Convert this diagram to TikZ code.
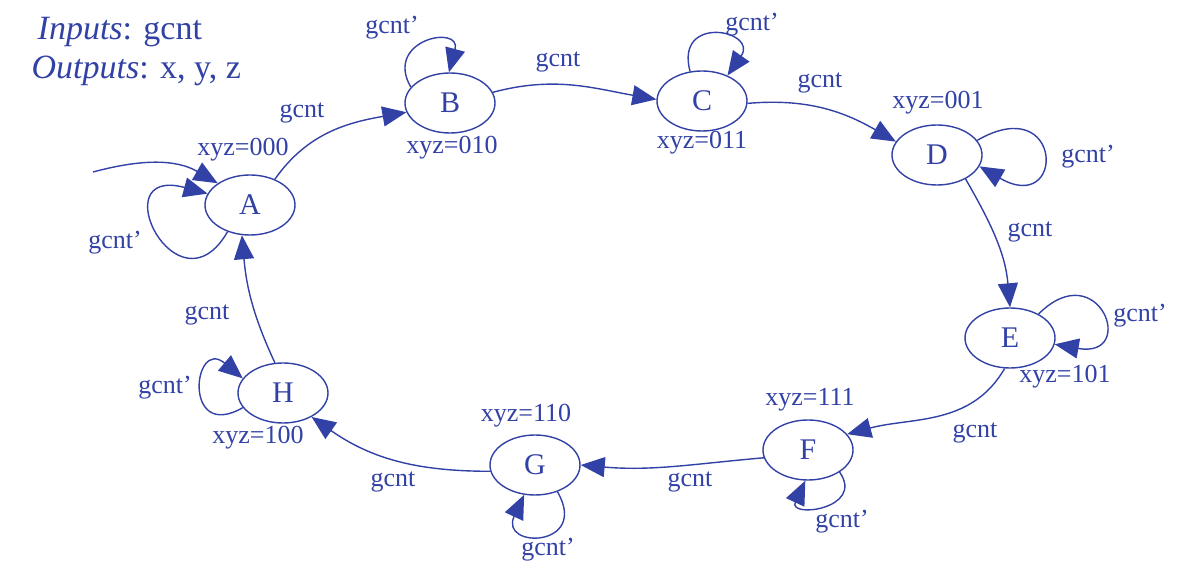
\documentclass[tikz,border=0pt]{standalone}
\usepackage{fontspec}
\setmainfont{Liberation Serif}
\usetikzlibrary{arrows.meta,shapes.geometric}
\definecolor{fsmblue}{RGB}{50,65,165}

\begin{document}
\begin{tikzpicture}[x=1pt, y=1pt, line width=1.4pt,
        state/.style={draw=fsmblue, ellipse, minimum width=90pt, minimum height=60pt, inner sep=0pt, text=fsmblue, font=\fontsize{30}{30}\selectfont},
        lbl/.style={text=fsmblue, inner sep=0pt, font=\fontsize{26}{26}\selectfont},
        arr/.style={draw=fsmblue, -{Triangle[length=24pt, width=20pt]}}]
        \useasboundingbox (0, 0) rectangle (1181, 568);

        \node[state] (A) at (250, 363) {A};
        \node[state] (B) at (450, 465) {B};
        \node[state] (C) at (702, 467) {C};
        \node[state] (D) at (937, 413) {D};
        \node[state] (E) at (1010, 230) {E};
        \node[state] (F) at (808, 118) {F};
        \node[state] (G) at (535, 103) {G};
        \node[state] (H) at (283, 175) {H};
        \coordinate (init) at (93, 396);

        \node[lbl, anchor=west, font=\fontsize{34}{34}\selectfont] (inputs) at (37, 536) {\textit{Inputs}: gcnt};
        \node[lbl, anchor=west, font=\fontsize{34}{34}\selectfont] (outputs) at (31, 497) {\textit{Outputs}: x, y, z};

        \draw[arr] (init) to[out=15, in=150] (A.146);
        \draw[arr] (A.46) to[out=55, in=190] (B.192);
        \draw[arr] (B.14) to[out=15, in=170] (C.178);
        \draw[arr] (C.-3) to[out=5, in=150] (D.162);
        \draw[arr] (D.-40) to[out=-60, in=95] (E.90);
        \draw[arr] (E.-100) to[out=-120, in=15] (F.22);
        \draw[arr] (F.190) to[out=185, in=-5] (G.0);
        \draw[arr] (G.188) to[out=180, in=-35] (H.-40);
        \draw[arr] (H.105) to[out=115, in=-85] (A.-105);

        \draw[arr] (A.-130) .. controls +(-120:100) and +(165:110) .. (A.165);
        \draw[arr] (B.158) .. controls +(120:55) and +(75:50) .. (B.92);
        \draw[arr] (C.112) .. controls +(105:60) and +(55:55) .. (C.45);
        \draw[arr] (D.20) .. controls +(30:100) and +(-30:100) .. (D.-15);
        \draw[arr] (E.40) .. controls +(45:85) and +(-10:85) .. (E.-8);
        \draw[arr] (F.-35) .. controls +(-55:45) and +(-115:42) .. (F.-95);
        \draw[arr] (G.-50) .. controls +(-60:65) and +(-115:60) .. (G.-110);
        \draw[arr] (H.-160) .. controls +(-150:70) and +(140:65) .. (H.160);

        \node[lbl] (xyzA) at (243, 418) {xyz=000};
        \node[lbl] (xyzB) at (452, 420) {xyz=010};
        \node[lbl] (xyzC) at (702, 425) {xyz=011};
        \node[lbl] (xyzD) at (938, 465) {xyz=001};
        \node[lbl] (xyzE) at (1065, 191) {xyz=101};
        \node[lbl] (xyzF) at (810, 168) {xyz=111};
        \node[lbl] (xyzG) at (526, 152) {xyz=110};
        \node[lbl] (xyzH) at (258, 130) {xyz=100};

        \node[lbl] (gAB) at (302, 455) {gcnt};
        \node[lbl] (gBC) at (558, 506) {gcnt};
        \node[lbl] (gCD) at (820, 485) {gcnt};
        \node[lbl] (gDE) at (1030, 336) {gcnt};
        \node[lbl] (gEF) at (975, 135) {gcnt};
        \node[lbl] (gFG) at (690, 86) {gcnt};
        \node[lbl] (gGH) at (393, 86) {gcnt};
        \node[lbl] (gHA) at (207, 253) {gcnt};

        \node[lbl] (gA) at (115, 325) {gcnt’};
        \node[lbl] (gB) at (392, 540) {gcnt’};
        \node[lbl] (gC) at (752, 543) {gcnt’};
        \node[lbl] (gD) at (1088, 411) {gcnt’};
        \node[lbl] (gE) at (1140, 252) {gcnt’};
        \node[lbl] (gF) at (842, 46) {gcnt’};
        \node[lbl] (gG) at (548, 18) {gcnt’};
        \node[lbl] (gH) at (165, 180) {gcnt’};
    \end{tikzpicture}
\end{document}
